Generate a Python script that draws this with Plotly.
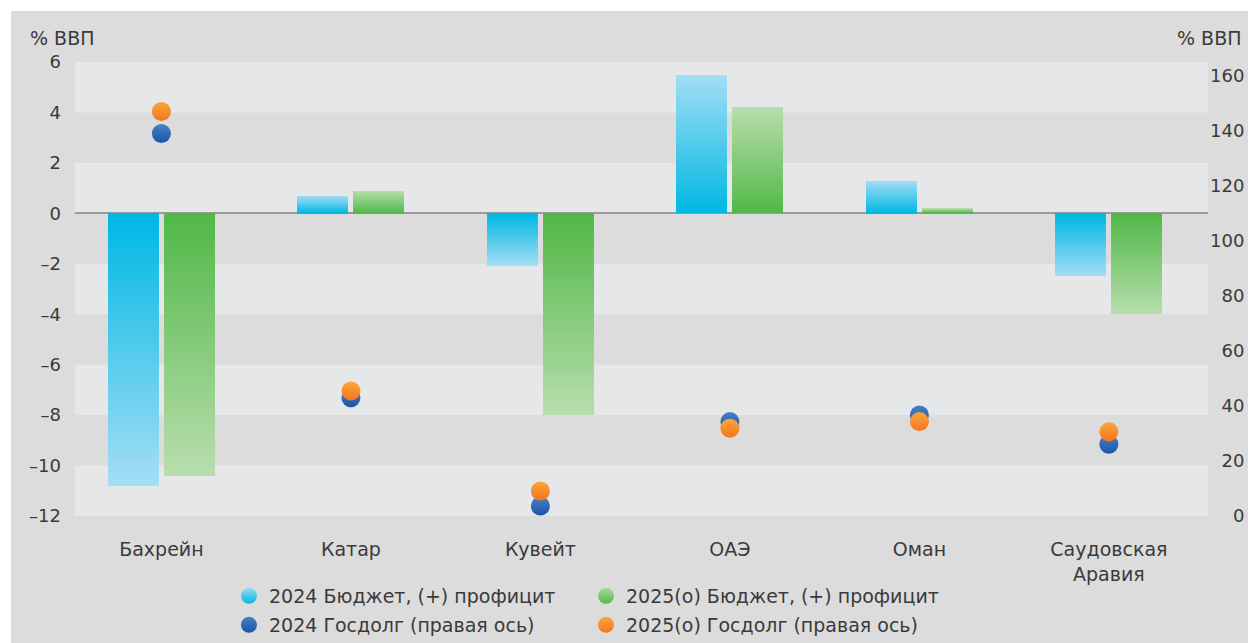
import plotly.graph_objects as go

countries = ["Бахрейн", "Катар", "Кувейт", "ОАЭ", "Оман", "Саудовская<br>Аравия"]
budget_2024 = [-10.8, 0.7, -2.1, 5.5, 1.3, -2.5]
budget_2025 = [-10.4, 0.9, -8.0, 4.2, 0.2, -4.0]
debt_2024 = [139, 43, 3.6, 34.3, 36.7, 26.1]
debt_2025 = [147, 45.4, 9.1, 31.9, 34.3, 30.6]

left_ticks = [6, 4, 2, 0, -2, -4, -6, -8, -10, -12]
left_labels = ["6", "4", "2", "0", "–2", "–4", "–6", "–8", "–10", "–12"]
right_ticks = [0, 20, 40, 60, 80, 100, 120, 140, 160]
right_labels = ["\u2007\u20070", "\u200720", "\u200740", "\u200760", "\u200780", "100", "120", "140", "160"]

FONT = "DejaVu Sans"
TXT = "#3a3a3a"
BG = "#dcdcdc"
BAND = "#e6e7e8"

def lerp(c1, c2, t):
    a = [int(c1[i:i + 2], 16) for i in (1, 3, 5)]
    b = [int(c2[i:i + 2], 16) for i in (1, 3, 5)]
    return "rgb(%d,%d,%d)" % tuple(round(a[j] + (b[j] - a[j]) * t) for j in range(3))

N = 40
fig = go.Figure()

def gradient_bars(vals, dark, light, offset):
    # stepped gradient: dark at the zero line, light at the bar tip
    for k in range(N):
        frac = (N - k) / N
        fig.add_trace(go.Bar(
            x=countries, y=[v * frac for v in vals],
            offset=offset, width=0.269,
            marker=dict(color=lerp(light, dark, k / (N - 1)), line=dict(width=0)),
            showlegend=False, hoverinfo="skip", yaxis="y"))

gradient_bars(budget_2024, "#00b8e4", "#a2ddf4", -0.282)
gradient_bars(budget_2025, "#52b848", "#b7ddac", 0.013)

# legend entries (circles like the reference)
fig.add_trace(go.Scatter(x=[None], y=[None], mode="markers", name="2024 Бюджет, (+) профицит",
                         marker=dict(size=17, color="#9bdcf4", gradient=dict(type="vertical", color="#00b5e2")),
                         legend="legend"))
fig.add_trace(go.Scatter(x=[None], y=[None], mode="markers", name="2025(о) Бюджет, (+) профицит",
                         marker=dict(size=17, color="#a8d99e", gradient=dict(type="vertical", color="#55b84c")),
                         legend="legend"))

fig.add_trace(go.Scatter(x=countries, y=debt_2024, yaxis="y2", mode="markers",
                         name="2024 Госдолг (правая ось)",
                         marker=dict(size=19, color="#4d7fc4", gradient=dict(type="vertical", color="#1656a6")),
                         legend="legend2"))
fig.add_trace(go.Scatter(x=countries, y=debt_2025, yaxis="y2", mode="markers",
                         name="2025(о) Госдолг (правая ось)",
                         marker=dict(size=19, color="#fba63a", gradient=dict(type="vertical", color="#f27520")),
                         legend="legend2"))

W, H = 1248, 643
L, R, T, B = 75, 40, 62, 127
pw, ph = W - L - R, H - T - B

def px(xp):
    return (xp - L) / pw

def py(yp):
    return (H - B - yp) / ph

shapes = [dict(type="rect", xref="paper", yref="paper", x0=px(11), x1=px(W + 5),
               y0=py(H + 5), y1=py(11), fillcolor=BG, line=dict(width=0), layer="below")]
for top in [6, 2, -2, -6, -10]:
    shapes.append(dict(type="rect", xref="paper", yref="y", x0=0, x1=1, y0=top - 2, y1=top,
                       fillcolor=BAND, line=dict(width=0), layer="below"))

legend_common = dict(orientation="h", bgcolor="rgba(0,0,0,0)", font=dict(family=FONT, size=19, color=TXT),
                     xref="container", yref="container",
                     xanchor="left", yanchor="middle", entrywidth=312, itemclick=False)

fig.update_layout(
    width=W, height=H,
    margin=dict(l=L, r=R, t=T, b=B, autoexpand=False),
    paper_bgcolor="white", plot_bgcolor="rgba(0,0,0,0)",
    barmode="overlay", bargap=0,
    font=dict(family=FONT, size=18, color=TXT),
    shapes=shapes,
    xaxis=dict(type="category", categoryorder="array", categoryarray=countries,
               range=[-0.456, 5.523], showgrid=False, zeroline=False, showline=False,
               ticks="", ticklabelstandoff=20, automargin=False, tickfont=dict(size=19, color=TXT)),
    yaxis=dict(range=[-12, 6], tickvals=left_ticks, ticktext=left_labels, showgrid=False, zeroline=True,
               zerolinecolor="#9a9a9a", zerolinewidth=1.5, showline=False, ticks="", automargin=False,
               ticklabelstandoff=13, tickfont=dict(size=18, color=TXT)),
    yaxis2=dict(range=[0, 165], tickvals=right_ticks, ticktext=right_labels, overlaying="y", side="right",
                showgrid=False, zeroline=False, showline=False, ticks="", automargin=False,
                ticklabelstandoff=1, tickfont=dict(size=18, color=TXT)),
    legend=dict(legend_common, x=229 / W, y=1 - 596 / H),
    legend2=dict(legend_common, x=229 / W, y=1 - 625 / H),
    annotations=[
        dict(text="% ВВП", xref="paper", yref="paper", x=px(28), y=py(38), xanchor="left",
             yanchor="middle", showarrow=False, font=dict(family=FONT, size=19, color=TXT)),
        dict(text="% ВВП", xref="paper", yref="paper", x=px(1243), y=py(38), xanchor="right",
             yanchor="middle", showarrow=False, font=dict(family=FONT, size=19, color=TXT)),
    ],
    showlegend=True,
)

fig.write_html("out.html", config={"displayModeBar": False},
               post_script="document.body.style.margin='0';document.body.style.overflow='hidden';")
